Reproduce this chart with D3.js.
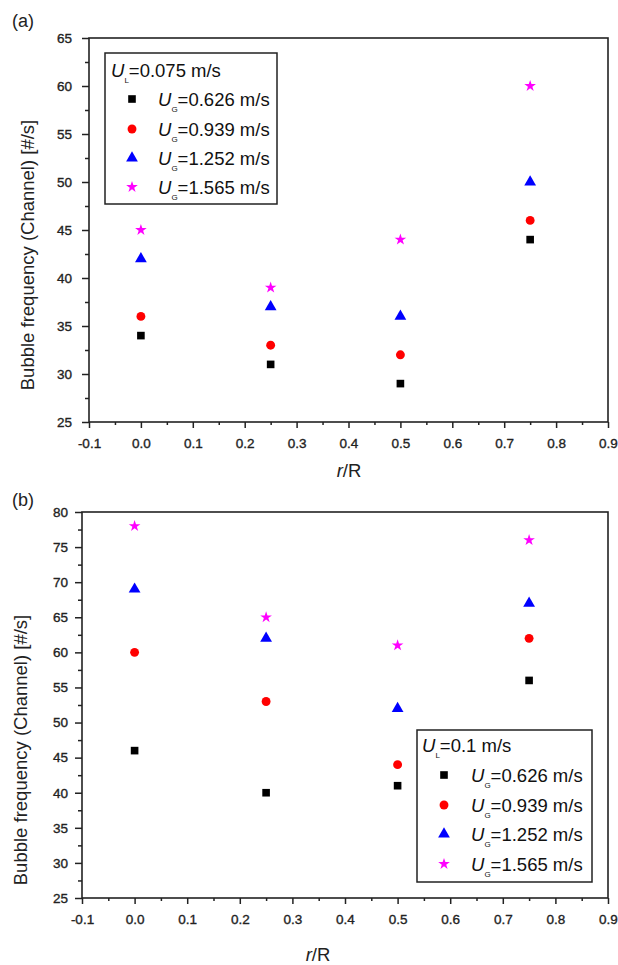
<!DOCTYPE html>
<html>
<head>
<meta charset="utf-8">
<script src="https://cdn.jsdelivr.net/npm/d3@7"></script>
<style>
  body { margin: 0; background: #fff; }
  svg { display: block; font-family: Arial, "Liberation Sans", sans-serif; }
</style>
</head>
<body>
<svg id="chart" width="618" height="965"></svg>
<script>
// radial positions (r/R) where the probe sat
const radialPos = [0, 0.25, 0.5, 0.75];
const gasVelocities = ["0.626", "0.939", "1.252", "1.565"];
const seriesColors = ["#000000", "#ff0000", "#0000ff", "#ff00ff"];

// (a) U_L = 0.075 m/s
const freqA_626 = [34, 31, 29, 44];
const freqA_939 = [36, 33, 32, 46];
const freqA_1252 = [42, 37, 36, 50];
const freqA_1565 = [45, 39, 44, 60];

// (b) U_L = 0.1 m/s
const freqB_626 = [46, 40, 41, 56];
const freqB_939 = [60, 53, 44, 62];
const freqB_1252 = [69, 62, 52, 67];
const freqB_1565 = [78, 65, 61, 76];

// ticks
const xTicks = [-0.1, 0, 0.1, 0.2, 0.3, 0.4, 0.5, 0.6, 0.7, 0.8, 0.9];
const xMinorTicks = [-0.05, 0.05, 0.15, 0.25, 0.35, 0.45, 0.55, 0.65, 0.75, 0.85];
const yTicksA = [25, 30, 35, 40, 45, 50, 55, 60, 65];
const yMinorA = [27.5, 32.5, 37.5, 42.5, 47.5, 52.5, 57.5, 62.5];
const yTicksB = [25, 30, 35, 40, 45, 50, 55, 60, 65, 70, 75, 80];
const yMinorB = [27.5, 32.5, 37.5, 42.5, 47.5, 52.5, 57.5, 62.5, 67.5, 72.5, 77.5];

const symbolTypes = [d3.symbolSquare, d3.symbolCircle, d3.symbolTriangle, d3.symbolStar];
const symbolSizes = [58, 62, 60, 42];

const svg = d3.select("#chart");

function drawPanel(p) {
  const x = d3.scaleLinear().domain([-0.1, 0.9]).range([p.left, p.right]);
  const y = d3.scaleLinear()
    .domain([p.yTicks[0], p.yTicks[p.yTicks.length - 1]])
    .range([p.bottom, p.top]);
  const g = svg.append("g");

  // x axis, major + minor
  g.append("g")
    .attr("transform", `translate(0,${p.bottom})`)
    .call(d3.axisBottom(x).tickValues(xTicks).tickSize(6).tickSizeOuter(0).tickPadding(10)
      .tickFormat(d => d.toFixed(1)))
    .call(a => a.select(".domain").remove());
  g.append("g")
    .attr("transform", `translate(0,${p.bottom})`)
    .call(d3.axisBottom(x).tickValues(xMinorTicks).tickSize(3).tickFormat(""))
    .call(a => a.select(".domain").remove());

  // y axis, major + minor
  g.append("g")
    .attr("transform", `translate(${p.left},0)`)
    .call(d3.axisLeft(y).tickValues(p.yTicks).tickSize(7).tickSizeOuter(0).tickPadding(p.yPad))
    .call(a => a.select(".domain").remove());
  g.append("g")
    .attr("transform", `translate(${p.left},0)`)
    .call(d3.axisLeft(y).tickValues(p.yMinor).tickSize(4).tickFormat(""))
    .call(a => a.select(".domain").remove());

  g.selectAll(".tick line").attr("stroke", "#222").attr("stroke-width", 1.5);
  g.selectAll(".tick text")
    .attr("font-size", 13.5)
    .attr("fill", "#222")
    .attr("stroke", "#222")
    .attr("stroke-width", 0.35)
    .attr("font-family", "Arial, 'Liberation Sans', sans-serif");

  // frame
  g.append("rect")
    .attr("x", p.left).attr("y", p.top)
    .attr("width", p.right - p.left).attr("height", p.bottom - p.top)
    .attr("fill", "none").attr("stroke", "#222").attr("stroke-width", 1.6);

  // markers
  p.series.forEach((vals, i) => {
    g.append("g").selectAll("path")
      .data(vals)
      .join("path")
      .attr("transform", (d, j) => `translate(${x(radialPos[j])},${y(d)})`)
      .attr("d", d3.symbol().type(symbolTypes[i]).size(symbolSizes[i]))
      .attr("fill", seriesColors[i]);
  });

  // axis titles
  g.append("text")
    .attr("transform", `translate(${p.titleX},${p.titleY}) rotate(-90)`)
    .attr("text-anchor", "middle")
    .attr("dominant-baseline", "central")
    .attr("font-size", 18.5)
    .attr("fill", "#222")
    .text("Bubble frequency (Channel) [#/s]");

  const xt = g.append("text")
    .attr("x", p.xTitleX).attr("y", p.xTitleY)
    .attr("text-anchor", "middle")
    .attr("font-size", 18.5)
    .attr("fill", "#222");
  xt.append("tspan").attr("font-style", "italic").text("r");
  xt.append("tspan").text("/R");

  g.append("text")
    .attr("x", p.tagX).attr("y", p.tagY)
    .attr("font-size", 18)
    .attr("fill", "#222")
    .text(p.tag);

  // legend
  const L = p.legend;
  g.append("rect")
    .attr("x", L.x).attr("y", L.y).attr("width", L.w).attr("height", L.h)
    .attr("fill", "#fff").attr("stroke", "#222").attr("stroke-width", 1.5);

  const head = g.append("text")
    .attr("x", L.headX).attr("y", L.headY)
    .attr("font-size", 18.5).attr("fill", "#111");
  head.append("tspan").attr("font-style", "italic").text("U");
  head.append("tspan").attr("font-size", 8).attr("dy", 6).text("L");
  head.append("tspan").attr("dy", -6).text(`=${p.liquid} m/s`);

  gasVelocities.forEach((v, i) => {
    const cy = L.rowY[i];
    g.append("path")
      .attr("transform", `translate(${L.symX},${cy})`)
      .attr("d", d3.symbol().type(symbolTypes[i]).size(symbolSizes[i]))
      .attr("fill", seriesColors[i]);
    const t = g.append("text")
      .attr("x", L.textX).attr("y", cy + 7)
      .attr("font-size", 18.5).attr("fill", "#111");
    t.append("tspan").attr("font-style", "italic").text("U");
    t.append("tspan").attr("font-size", 8).attr("dy", 6).text("G");
    t.append("tspan").attr("dy", -6).text(`=${v} m/s`);
  });
}

drawPanel({
  tag: "(a)", tagX: 12, tagY: 27,
  left: 89, right: 608, top: 38, bottom: 422,
  yTicks: yTicksA, yMinor: yMinorA, yPad: 10,
  series: [freqA_626, freqA_939, freqA_1252, freqA_1565],
  titleX: 27, titleY: 255,
  xTitleX: 349, xTitleY: 477,
  liquid: "0.075",
  legend: { x: 105, y: 53, w: 172, h: 151, headX: 111, headY: 77,
            symX: 132, textX: 158, rowY: [99, 129, 158, 187] }
});

drawPanel({
  tag: "(b)", tagX: 12, tagY: 506,
  left: 82, right: 608, top: 512, bottom: 898,
  yTicks: yTicksB, yMinor: yMinorB, yPad: 7,
  series: [freqB_626, freqB_939, freqB_1252, freqB_1565],
  titleX: 20, titleY: 750,
  xTitleX: 318, xTitleY: 961,
  liquid: "0.1",
  legend: { x: 417, y: 730, w: 175, h: 152, headX: 422, headY: 752,
            symX: 444, textX: 471, rowY: [775, 805, 834, 864] }
});
</script>
</body>
</html>
